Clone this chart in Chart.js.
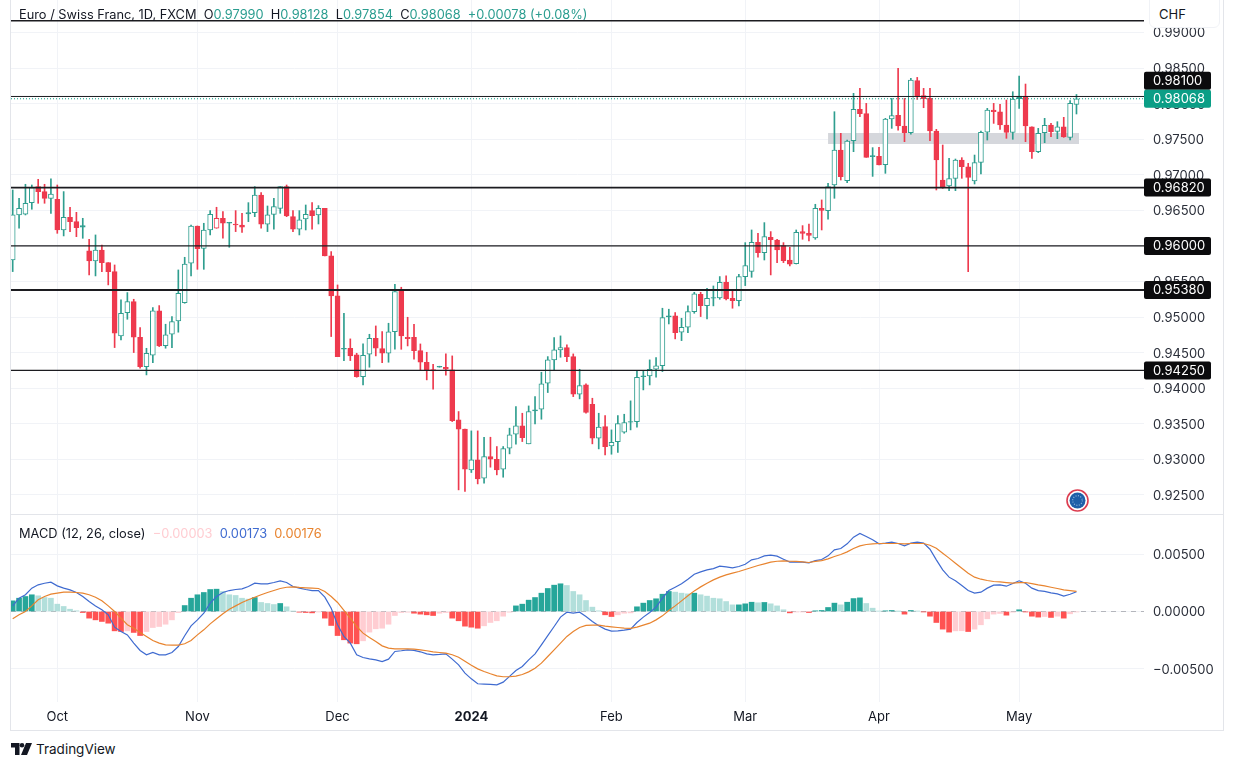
<!DOCTYPE html>
<html lang="en"><head><meta charset="utf-8"><title>EUR/CHF</title>
<script src="https://cdn.jsdelivr.net/npm/chart.js@4"></script>
<style>
  * { box-sizing: border-box; }
  html, body { margin: 0; width: 1234px; height: 768px; overflow: hidden; background: #fff; color: #131722;
    font: 13px Inter, "Noto Sans", sans-serif; }
  canvas { position: absolute; left: 11px; display: block; }
  #price { top: 0; }
  #macd { top: 514px; }
  /* pane frame */
  #frame { position: absolute; left: 10px; top: -1px; width: 1214px; height: 732px;
    border: 1px solid #e3e5ea; pointer-events: none; }
  #sep { position: absolute; left: 11px; top: 514px; width: 1212px; height: 1px; background: #e3e5ea; }
  .legend { position: absolute; left: 19px; white-space: pre; line-height: 16px; font-size: 12.8px; }
  .up { color: #2a9d8f; }
  #head { top: 7px; }
  #sub { top: 526px; }
  #chf { position: absolute; left: 1149px; top: -1px; width: 71px; height: 29px; background: #fff;
    border: 1px solid #f0f2f6; border-radius: 0 0 6px 6px; padding: 6px 9px; line-height: 16px; }
  #brand { position: absolute; left: 36px; top: 740px; font-size: 13.5px; line-height: 18px; color: #131722; }
  svg { position: absolute; }
</style></head>
<body>
<canvas id="price" width="1212" height="514"></canvas>
<canvas id="macd" width="1212" height="216"></canvas>
<div id="frame"></div><div id="sep"></div>
<div class="legend" id="head">Euro / Swiss Franc, 1D, FXCM  O<span class="up">0.97990</span>  H<span class="up">0.98128</span>  L<span class="up">0.97854</span>  C<span class="up">0.98068</span>  <span class="up">+0.00078 (+0.08%)</span></div>
<div class="legend" id="sub">MACD (12, 26, close)  <span style="color:#ffcdd2">−0.00003</span>  <span style="color:#3f6bd0">0.00173</span>  <span style="color:#e8842f">0.00176</span></div>
<div id="chf">CHF</div>
<svg style="left:1066px;top:489px" width="23" height="23" viewBox="0 0 23 23">
  <circle cx="11.5" cy="11.5" r="10.5" fill="#fff" stroke="#dc3d50" stroke-width="1.6"/>
  <circle cx="11.5" cy="11.5" r="8" fill="#1f5fa8"/>
  <circle cx="11.5" cy="11.5" r="4.8" fill="none" stroke="#8fb4dc" stroke-width="1.2" stroke-dasharray="1 1.5"/>
</svg>
<svg style="left:11px;top:743px" width="21" height="12" viewBox="0 0 21 12">
  <path d="M0 0h8.5v12H4V4.5H0z" fill="#131722"/><circle cx="11" cy="2.3" r="2.3" fill="#131722"/>
  <path d="M15 0h6l-5 12h-6z" fill="#131722"/>
</svg>
<div id="brand">TradingView</div>
<script>
// One entry per daily bar.
const opens = [
  .95802,.96435,.96445,.96608,.96833,.96763,.96669,.96655,.96224,.96402,
  .96341,.96285,.95929,.95788,.95943,.95765,.95639,.94735,.95063,.95217,
  .94716,.94304,.94463,.95086,.94599,.94758,.94946,.95203,.95756,.96280,
  .95966,.96224,.96248,.96388,.96332,.96308,.96294,.96468,.96468,.96716,
  .96304,.96444,.96528,.96833,.96411,.96234,.96379,.96496,.96435,.96528,
  .95859,.95297,.94561,.94561,.94468,.94163,.94477,.94702,.94557,.94491,
  .94796,.95372,.94716,.94716,.94529,.94365,.94262,.94309,.94295,.94257,
  .93555,.93424,.92852,.92993,.92735,.93040,.93002,.92862,.93156,.93353,
  .93470,.93218,.93695,.93704,.94070,.94398,.94538,.94571,.94444,.93915,
  .94046,.93775,.93297,.93461,.93189,.93250,.93381,.93531,.93531,.94173,
  .94173,.94266,.94318,.95016,.95016,.94786,.94857,.95077,.95320,.95161,
  .95273,.95269,.95489,.95264,.95231,.95568,.95643,.96051,.95906,.96121,
  .96083,.96004,.95802,.95751,.96201,.96177,.96112,.96528,.96496,.96856,
  .97348,.96917,.97479,.97919,.97858,.97268,.97259,.97142,.97783,.97835,
  .97685,.97591,.98322,.98111,.98073,.97615,.96926,.96842,.96950,.97207,
  .97113,.96912,.97175,.97600,.97910,.97886,.97699,.97596,.98106,.98106,
  .97675,.97324,.97591,.97699,.97610,.97675,.97526,.97990];
const highs = [
  .96786,.96669,.96866,.96856,.96936,.96866,.96941,.96856,.96763,.96543,
  .96472,.96388,.96093,.96154,.96013,.95765,.95732,.95241,.95344,.95250,
  .94852,.94561,.95133,.95161,.94899,.95007,.95662,.95840,.96294,.96280,
  .96318,.96496,.96543,.96482,.96332,.96496,.96458,.96608,.96833,.96749,
  .96561,.96669,.96833,.96856,.96496,.96496,.96575,.96608,.96566,.96528,
  .95920,.95451,.95053,.94693,.94491,.94622,.94758,.94875,.94796,.94913,
  .95461,.95419,.94997,.94899,.94622,.94505,.94337,.94309,.94482,.94454,
  .93672,.93424,.93400,.93400,.93311,.93311,.93180,.93180,.93438,.93742,
  .93648,.93751,.93882,.94224,.94444,.94711,.94735,.94608,.94482,.94266,
  .94060,.93859,.93648,.93616,.93414,.93616,.93634,.93822,.94243,.94243,
  .94398,.94430,.95124,.95110,.95063,.94983,.95157,.95348,.95348,.95405,
  .95437,.95569,.95578,.95390,.95601,.96046,.96224,.96177,.96327,.96201,
  .96093,.96046,.95981,.96224,.96285,.96308,.96585,.96646,.96880,.97886,
  .97582,.97488,.98144,.98214,.98003,.97381,.97385,.97793,.98073,.98495,
  .98073,.98354,.98368,.98214,.98214,.97638,.97418,.97230,.97221,.97240,
  .97160,.97277,.97614,.97933,.98003,.97989,.98050,.98167,.98387,.98275,
  .97675,.97652,.97793,.97722,.97746,.97807,.98041,.98128];
const lows = [
  .95639,.96248,.96435,.96515,.96599,.96599,.96458,.96177,.96140,.96201,
  .96130,.96107,.95592,.95578,.95639,.95452,.94571,.94679,.94969,.94501,
  .94280,.94187,.94360,.94585,.94562,.94571,.94787,.95194,.95578,.95671,
  .95671,.96154,.96248,.96107,.95981,.96201,.96191,.96341,.96411,.96248,
  .96201,.96234,.96458,.96411,.96201,.96154,.96224,.96234,.96308,.95859,
  .94726,.94444,.94388,.94388,.94154,.94046,.94295,.94454,.94360,.94365,
  .94547,.94547,.94594,.94407,.94257,.94117,.93985,.94295,.94182,.93531,
  .92571,.92548,.92815,.92655,.92665,.92890,.92782,.92749,.93077,.93213,
  .93250,.93218,.93498,.93564,.93939,.94257,.94435,.94374,.93882,.93850,
  .93648,.93218,.93147,.93063,.93072,.93096,.93367,.93414,.93452,.93976,
  .94046,.94154,.94234,.94903,.94693,.94669,.94782,.95053,.95007,.94974,
  .95157,.95250,.95241,.95124,.95157,.95442,.95559,.95840,.95802,.95592,
  .95765,.95765,.95718,.95746,.96093,.96070,.96093,.96224,.96374,.96669,
  .96926,.96889,.97324,.97816,.97245,.96977,.97137,.97020,.97652,.97628,
  .97465,.97572,.98059,.97942,.97479,.96786,.96809,.96776,.96776,.96950,
  .95638,.96870,.97010,.97488,.97722,.97638,.97512,.97498,.97933,.97465,
  .97230,.97310,.97451,.97535,.97507,.97526,.97488,.97854];
const closes = [
  .96435,.96529,.96599,.96819,.96763,.96669,.96730,.96224,.96402,.96341,
  .96257,.96262,.95788,.95943,.95765,.95639,.94773,.95053,.95217,.94716,
  .94304,.94491,.95086,.94594,.94749,.94936,.95334,.95746,.96280,.95962,
  .96224,.96444,.96388,.96318,.96318,.96294,.96262,.96449,.96716,.96304,
  .96435,.96552,.96833,.96421,.96234,.96365,.96444,.96425,.96528,.95859,
  .95297,.94444,.94547,.94454,.94163,.94463,.94702,.94561,.94491,.94791,
  .95358,.94735,.94697,.94529,.94365,.94248,.94243,.94295,.94266,.93545,
  .93424,.92862,.92993,.92726,.93040,.93002,.92852,.93152,.93344,.93470,
  .93306,.93672,.93681,.94060,.94398,.94538,.94571,.94444,.93915,.94037,
  .93658,.93297,.93452,.93180,.93241,.93503,.93517,.93522,.94154,.94163,
  .94266,.94313,.94993,.95002,.94782,.94857,.95077,.95325,.95161,.95264,
  .95264,.95489,.95255,.95231,.95568,.95723,.96051,.95906,.96130,.96088,
  .95943,.95793,.95742,.96191,.96177,.96149,.96528,.96500,.96833,.97348,
  .96973,.97474,.97919,.97858,.97245,.97254,.97137,.97783,.97830,.97685,
  .97591,.98331,.98111,.98069,.97615,.97207,.96833,.96945,.97207,.97113,
  .96964,.97170,.97595,.97910,.97886,.97699,.97596,.98064,.98069,.97685,
  .97324,.97582,.97694,.97605,.97675,.97530,.98003,.98068];

const histogram = [
  .00093,.00116,.00131,.00146,.00137,.00122,.00116,.00064,.00044,.00020,
  .00006,-.00009,-.00058,-.00073,-.00087,-.00102,-.00169,-.00175,-.00169,-.00183,
  -.00210,-.00175,-.00140,-.00131,-.00111,-.00073,-.00009,.00052,.00116,.00146,
  .00166,.00192,.00195,.00175,.00146,.00140,.00116,.00108,.00122,.00079,
  .00070,.00061,.00070,.00041,.00003,-.00006,-.00009,-.00012,-.00003,-.00058,
  -.00122,-.00210,-.00247,-.00276,-.00282,-.00256,-.00180,-.00151,-.00146,-.00111,
  -.00035,-.00009,-.00006,-.00015,-.00023,-.00029,-.00035,-.00015,-.00009,-.00058,
  -.00081,-.00128,-.00137,-.00146,-.00125,-.00096,-.00081,-.00041,-.00006,.00049,
  .00064,.00099,.00122,.00160,.00201,.00230,.00242,.00227,.00175,.00146,
  .00096,.00038,.00006,-.00029,-.00044,-.00029,-.00015,-.00012,.00041,.00073,
  .00096,.00111,.00151,.00175,.00169,.00160,.00154,.00160,.00146,.00134,
  .00116,.00111,.00087,.00058,.00058,.00067,.00081,.00076,.00079,.00067,
  .00049,.00015,-.00012,-.00003,-.00003,-.00009,.00006,.00009,.00035,.00073,
  .00058,.00081,.00113,.00119,.00070,.00029,.00003,.00006,.00009,.00001,
  -.00023,.00009,.00003,-.00003,-.00041,-.00096,-.00154,-.00180,-.00169,-.00168,
  -.00175,-.00154,-.00116,-.00064,-.00023,-.00017,-.00032,-.00006,.00015,-.00003,
  -.00041,-.00049,-.00044,-.00052,-.00041,-.00058,-.00020,-.00003];
const macdLine = [
  .00049,.00116,.00146,.00204,.00233,.00247,.00256,.00224,.00204,.00189,
  .00166,.00131,.00087,.00049,.00015,-.00029,-.00137,-.00175,-.00204,-.00276,
  -.00340,-.00378,-.00358,-.00378,-.00378,-.00358,-.00306,-.00212,-.00125,-.00073,
  -.00015,.00073,.00131,.00166,.00183,.00192,.00198,.00218,.00247,.00242,
  .00242,.00253,.00268,.00253,.00218,.00204,.00192,.00183,.00183,.00125,
  .00029,-.00116,-.00218,-.00276,-.00378,-.00402,-.00413,-.00422,-.00437,-.00416,
  -.00349,-.00343,-.00335,-.00340,-.00352,-.00370,-.00378,-.00375,-.00370,-.00416,
  -.00466,-.00538,-.00588,-.00631,-.00634,-.00637,-.00640,-.00617,-.00567,-.00515,
  -.00480,-.00422,-.00370,-.00291,-.00210,-.00131,-.00049,-.00006,-.00015,-.00006,
  -.00044,-.00087,-.00125,-.00154,-.00172,-.00169,-.00163,-.00154,-.00096,-.00049,
  -.00009,.00038,.00116,.00183,.00212,.00242,.00282,.00326,.00346,.00364,
  .00375,.00396,.00390,.00381,.00393,.00413,.00451,.00463,.00486,.00492,
  .00483,.00457,.00431,.00434,.00431,.00425,.00445,.00454,.00486,.00538,
  .00550,.00591,.00649,.00681,.00655,.00626,.00591,.00597,.00605,.00594,
  .00573,.00597,.00605,.00597,.00544,.00451,.00364,.00300,.00268,.00227,
  .00183,.00160,.00169,.00204,.00230,.00233,.00221,.00244,.00268,.00247,
  .00204,.00183,.00175,.00163,.00154,.00134,.00151,.00173];
const signalLine = [
  -.00064,-.00029,0,.00049,.00102,.00131,.00151,.00160,.00169,.00169,
  .00166,.00160,.00146,.00125,.00093,.00049,0,-.00058,-.00116,-.00146,
  -.00183,-.00218,-.00253,-.00276,-.00291,-.00294,-.00294,-.00282,-.00253,-.00204,
  -.00160,-.00108,-.00064,-.00020,.00020,.00049,.00079,.00102,.00125,.00146,
  .00166,.00183,.00201,.00212,.00215,.00210,.00207,.00204,.00201,.00175,
  .00131,.00079,.00009,-.00058,-.00131,-.00189,-.00227,-.00262,-.00300,-.00320,
  -.00326,-.00326,-.00326,-.00329,-.00335,-.00343,-.00352,-.00358,-.00364,-.00378,
  -.00399,-.00434,-.00469,-.00501,-.00524,-.00544,-.00562,-.00570,-.00570,-.00565,
  -.00550,-.00527,-.00495,-.00451,-.00393,-.00335,-.00276,-.00218,-.00175,-.00140,
  -.00122,-.00119,-.00119,-.00128,-.00134,-.00140,-.00146,-.00148,-.00137,-.00119,
  -.00102,-.00073,-.00038,.00009,.00049,.00093,.00137,.00180,.00215,.00247,
  .00276,.00300,.00320,.00335,.00349,.00367,.00384,.00402,.00416,.00431,
  .00439,.00442,.00439,.00437,.00434,.00428,.00437,.00445,.00460,.00480,
  .00498,.00521,.00550,.00573,.00585,.00591,.00594,.00594,.00594,.00594,
  .00591,.00594,.00594,.00594,.00579,.00553,.00509,.00466,.00422,.00378,
  .00335,.00300,.00282,.00271,.00262,.00259,.00253,.00247,.00253,.00253,
  .00244,.00233,.00224,.00212,.00201,.00189,.00183,.00176];

const monthBars = [7, 29, 51, 72, 94, 115, 136, 158];
const monthLabels = ['Oct', 'Nov', 'Dec', '2024', 'Feb', 'Mar', 'Apr', 'May'];
const priceTicks = [.925, .93, .935, .94, .945, .95, .955, .96, .965, .97, .975, .98, .985, .99];
const macdTicks = [-.005, 0, .005];

const levels = [.99165, .981, .9682, .96, .9538, .9425];
const labelled = [.981, .9682, .96, .9538, .9425];
const lastPrice = .98068;
const zoneTop = .97586, zoneBottom = .97432, zoneFrom = 128, zoneTo = 167.4;

// x window and y windows of the two panes
const X_MIN = -0.267, X_MAX = 177.6;
const P_MIN = .92232, P_MAX = .99456;
const M_MIN = -.007904, M_MAX = .008515;

const GREEN = '#2f9e8f', RED = '#ee3a4e', GRID = '#f1f3f7';
const FONT = 'Inter, "Noto Sans", sans-serif';

// hollow when close > open, colour against the previous close (TradingView hollow candles)
const candleColor = closes.map((c, i) => (i === 0 || c >= closes[i - 1]) ? GREEN : RED);
const histColor = histogram.map((v, i) => {
  const up = i === 0 || v >= histogram[i - 1];
  return v >= 0 ? (up ? '#26a69a' : '#b2dfdb') : (up ? '#ffcdd2' : '#ff5252');
});

const flat = (y, color, width, dash, order) => ({
  type: 'line', data: [{ x: X_MIN, y }, { x: X_MAX, y }],
  borderColor: color, borderWidth: width, borderDash: dash || [], pointRadius: 0, order,
});

// the axes reserve half a label at each end by default, which would pull the
// chart area off the pane edges; afterFit zeroes it so the panes line up exactly
const xAxis = (showLabels) => ({
  type: 'linear', offset: false, min: X_MIN, max: X_MAX,
  afterBuildTicks: s => { s.ticks = monthBars.map(value => ({ value })); },
  afterFit: s => { s.height = showLabels ? 28 : 0; s.paddingLeft = 0; s.paddingRight = 0; },
  grid: { color: GRID, offset: false, drawTicks: false },
  border: { display: false },
  ticks: {
    display: showLabels, autoSkip: false, maxRotation: 0, padding: 7, color: '#131722',
    font: c => ({ family: FONT, size: 13, weight: c.tick && c.tick.value === 72 ? '700' : '400' }),
    callback: v => monthLabels[monthBars.indexOf(v)],
  },
});
const yAxis = (min, max, list, fmt) => ({
  position: 'right', min, max, beginAtZero: false,
  afterBuildTicks: s => { s.ticks = list.map(value => ({ value })); },
  afterFit: s => { s.width = 79; s.paddingTop = 0; s.paddingBottom = 0; },
  grid: { color: GRID, drawTicks: false },
  border: { display: false },
  ticks: { padding: 9, labelOffset: 1, color: '#2a2e39', font: { family: FONT, size: 13 }, callback: fmt },
});

// right-hand price tags, drawn through the y scale; a tag that would sit on
// the last-price tag gets pushed above it
const priceTags = {
  id: 'priceTags',
  afterDraw(chart) {
    const { ctx, scales: { y }, chartArea } = chart;
    const lastY = y.getPixelForValue(lastPrice);
    const tag = (value, py, bg) => {
      ctx.fillStyle = bg;
      ctx.beginPath();
      ctx.roundRect(chartArea.right, py - 9, 67, 18, 2);
      ctx.fill();
      ctx.fillStyle = '#fff';
      ctx.font = `13px ${FONT}`;
      ctx.textBaseline = 'middle';
      ctx.textAlign = 'left';
      ctx.fillText(value.toFixed(5), chartArea.right + 9, py + 0.5);
    };
    for (const v of labelled) {
      let py = y.getPixelForValue(v);
      if (Math.abs(py - lastY) < 18) py = lastY - 18;
      tag(v, py, '#0b0b0d');
    }
    tag(lastPrice, lastY, '#0b9e86');
  },
};

new Chart(document.getElementById('price'), {
  type: 'bar',
  plugins: [priceTags],
  data: {
    datasets: [
      { type: 'line', data: [{ x: zoneFrom, y: zoneTop }, { x: zoneTo, y: zoneTop }], borderWidth: 0, pointRadius: 0, order: 5 },
      { type: 'line', data: [{ x: zoneFrom, y: zoneBottom }, { x: zoneTo, y: zoneBottom }], borderWidth: 0, pointRadius: 0,
        fill: '-1', backgroundColor: '#d5d7dc', order: 5 },
      { data: highs.map((h, i) => ({ x: i, y: [lows[i], h] })), backgroundColor: candleColor,
        barThickness: 1, grouped: false, order: 3 },
      { data: opens.map((o, i) => ({ x: i, y: [o, closes[i]] })),
        backgroundColor: closes.map((c, i) => c > opens[i] ? '#fff' : candleColor[i]),
        borderColor: candleColor, borderWidth: 1, borderSkipped: false, barThickness: 5, grouped: false, order: 2 },
      ...levels.map(v => flat(v, '#1c1c20', v === .9682 || v === .9538 ? 1.8 : (v === .981 ? 1 : 1.4), null, 1)),
      flat(lastPrice, '#0b9e86', 1, [1, 2], 0),
    ],
  },
  options: {
    responsive: false, animation: false,
    layout: { padding: 0 },
    plugins: { legend: { display: false }, tooltip: { enabled: false } },
    scales: { x: xAxis(false), y: yAxis(P_MIN, P_MAX, priceTicks, v => v.toFixed(5)) },
  },
});

new Chart(document.getElementById('macd'), {
  type: 'bar',
  data: {
    datasets: [
      flat(0, '#b4b6bc', 1, [5, 5], 3),
      { data: histogram.map((y, x) => ({ x, y })), backgroundColor: histColor, barThickness: 5, grouped: false, order: 2 },
      { type: 'line', data: macdLine.map((y, x) => ({ x, y })), borderColor: '#3f6bd0', borderWidth: 1.2, pointRadius: 0, order: 1 },
      { type: 'line', data: signalLine.map((y, x) => ({ x, y })), borderColor: '#e8842f', borderWidth: 1.2, pointRadius: 0, order: 0 },
    ],
  },
  options: {
    responsive: false, animation: false,
    layout: { padding: 0 },
    plugins: { legend: { display: false }, tooltip: { enabled: false } },
    scales: {
      x: xAxis(true),
      y: yAxis(M_MIN, M_MAX, macdTicks, v => (v < 0 ? '−' : '') + Math.abs(v).toFixed(5)),
    },
  },
});
</script>
</body></html>
